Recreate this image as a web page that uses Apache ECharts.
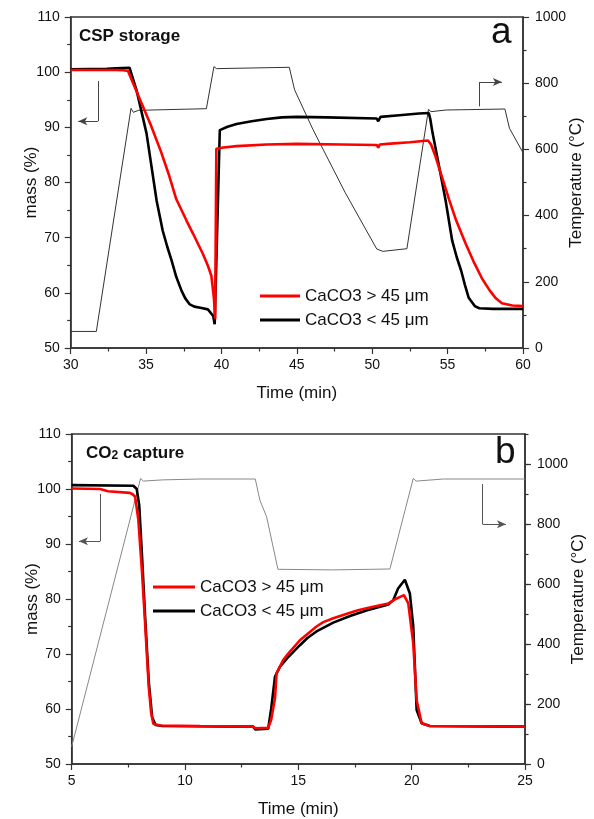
<!DOCTYPE html>
<html>
<head>
<meta charset="utf-8">
<script src="https://cdn.jsdelivr.net/npm/echarts@6/dist/echarts.min.js"></script>
<style>
html,body{margin:0;padding:0;background:#fff;}
#chart{width:594px;height:819px;}
</style>
</head>
<body>
<div id="chart"></div>
<script>
// ---------- Panel a : CSP storage ----------
const aTempTime = [30, 31.7, 34.0, 34.15, 34.5, 39.0, 39.5, 39.67, 44.5, 44.85, 46.07, 48.2, 50.3, 50.7, 52.3, 53.73, 53.9, 54.9, 58.8, 59.1, 60];
const aTempVal  = [50, 50, 724, 712, 718, 723, 850, 844, 848, 780, 660, 470, 299, 292, 300, 721, 714, 719, 722, 664, 590];

const aRedTime = [30, 33.0, 33.5, 33.8, 33.93, 34.6, 35.3, 36.0, 36.5, 37.0, 37.68, 38.12, 38.78, 39.1, 39.33, 39.5, 39.58, 39.66, 40.0, 41.0, 43.0, 45.0, 48.0, 50.3, 50.4, 50.5, 51.0, 52.5, 53.7, 53.9, 54.2, 54.6, 55.1, 55.57, 56.2, 56.7, 57.3, 57.8, 58.2, 58.6, 59.3, 60];
const aRedVal  = [100.4, 100.4, 100.35, 100.2, 99.9, 95.0, 90.5, 85.5, 81.5, 77.0, 73.1, 70.7, 67.0, 64.9, 63.1, 59.0, 55.3, 86.1, 86.3, 86.6, 86.9, 87.0, 86.9, 86.8, 86.3, 86.9, 87.0, 87.3, 87.6, 86.9, 84.7, 81.2, 76.9, 73.1, 68.9, 65.8, 62.5, 60.4, 59.0, 58.1, 57.7, 57.6];

const aBlackTime = [30, 32.4, 33.0, 33.9, 34.37, 35.03, 35.7, 36.1, 36.4, 36.7, 37.0, 37.35, 37.6, 37.9, 38.2, 38.6, 39.1, 39.45, 39.55, 39.89, 40.0, 40.4, 41.0, 42.0, 43.0, 44.0, 45.0, 47.0, 50.3, 50.4, 50.55, 51.8, 53.1, 53.75, 53.85, 54.0, 54.5, 54.87, 55.3, 55.6, 55.9, 56.15, 56.4, 56.8, 57.1, 58.0, 60];
const aBlackVal  = [100.5, 100.6, 100.7, 100.8, 96.7, 88.9, 76.7, 71.3, 68.4, 65.8, 62.9, 60.4, 59.0, 57.9, 57.5, 57.3, 57.0, 55.8, 54.3, 89.5, 89.7, 90.1, 90.6, 91.1, 91.5, 91.8, 91.9, 91.8, 91.6, 91.1, 91.9, 92.2, 92.5, 92.6, 91.5, 89.0, 82.0, 76.7, 69.5, 66.5, 64.0, 61.4, 59.1, 57.6, 57.2, 57.1, 57.1];

// ---------- Panel b : CO2 capture ----------
const bTempTime = [5, 8.04, 8.16, 9.0, 10.66, 13.1, 13.3, 13.6, 14.1, 16.5, 19.04, 20.07, 20.2, 21.4, 25];
const bTempVal  = [58, 952, 943, 947, 950, 950, 880, 824, 649, 647, 650, 952, 943, 950, 950];

const bRedTime = [5, 6.25, 6.6, 7.57, 7.7, 7.8, 7.94, 8.1, 8.23, 8.4, 8.5, 8.6, 8.9, 10.66, 13.0, 13.1, 13.67, 13.8, 13.97, 14.04, 14.33, 14.6, 15.07, 15.8, 16.1, 16.54, 17.28, 17.6, 18.0, 18.97, 19.04, 19.34, 19.66, 19.85, 20.07, 20.22, 20.44, 20.8, 25];
const bRedVal  = [100.1, 100.0, 99.6, 99.3, 99.0, 98.6, 94.4, 85.0, 76.2, 64.0, 59.5, 57.3, 57.0, 56.9, 56.8, 56.5, 56.6, 58.0, 62.0, 66.5, 68.9, 70.3, 72.5, 75.0, 75.8, 76.5, 77.5, 77.9, 78.3, 79.2, 79.5, 80.1, 80.7, 79.2, 71.9, 61.6, 57.4, 56.9, 56.8];

const bBlackTime = [5, 7.72, 7.8, 7.87, 7.92, 7.98, 8.1, 8.25, 8.4, 8.55, 8.7, 9.0, 13.0, 13.1, 13.67, 13.8, 13.97, 14.19, 14.5, 15.07, 15.4, 15.8, 16.54, 17.28, 18.0, 18.97, 19.04, 19.19, 19.4, 19.7, 19.78, 19.92, 20.07, 20.22, 20.44, 20.8, 25];
const bBlackVal  = [100.7, 100.6, 100.6, 100.0, 100.3, 97.0, 88.0, 76.0, 65.0, 58.5, 57.1, 56.9, 56.8, 56.3, 56.4, 60.0, 65.9, 67.7, 69.2, 71.6, 72.9, 74.1, 75.7, 76.9, 77.9, 79.0, 79.2, 79.8, 81.9, 83.5, 83.6, 81.0, 75.0, 59.8, 57.4, 56.9, 56.8];

const seriesNames = ['CaCO3 > 45 μm', 'CaCO3 < 45 μm'];

function zip(xs, ys){ return xs.map((x,i)=>[x, ys[i]]); }

const FONT = 'Liberation Sans, Arial, Helvetica, sans-serif';
const AX = '#333';
const chart = echarts.init(document.getElementById('chart'), null, {renderer:'canvas'});
const plain = v => String(v);

function xAxisCfg(grid, min, max){
  return {
    type:'value', gridIndex:grid, min:min, max:max, interval:5,
    name:'Time (min)', nameLocation:'middle', nameGap:37, nameMoveOverlap:false,
    nameTextStyle:{fontFamily:FONT, fontSize:17, color:'#111'},
    axisLine:{show:true, onZero:false, lineStyle:{color:AX, width:1.5}},
    axisTick:{show:true, inside:false, length:6, lineStyle:{color:AX, width:1.2}},
    minorTick:{show:true, splitNumber:2, length:3.5, lineStyle:{color:AX, width:1.2}},
    axisLabel:{fontFamily:FONT, fontSize:14, color:'#111', margin:10, formatter:plain},
    splitLine:{show:false}
  };
}
function massAxisCfg(grid){
  return {
    type:'value', gridIndex:grid, position:'left', min:50, max:110, interval:10,
    name:'mass (%)', nameLocation:'middle', nameRotate:90, nameGap:31, nameMoveOverlap:false,
    nameTextStyle:{fontFamily:FONT, fontSize:17, color:'#111'},
    axisLine:{show:true, onZero:false, lineStyle:{color:AX, width:1.5}},
    axisTick:{show:true, length:6, lineStyle:{color:AX, width:1.2}},
    minorTick:{show:true, splitNumber:2, length:3.5, lineStyle:{color:AX, width:1.2}},
    axisLabel:{fontFamily:FONT, fontSize:14, color:'#111', margin:11, formatter:plain},
    splitLine:{show:false}
  };
}
function tempAxisCfg(grid, max, minor){
  return {
    type:'value', gridIndex:grid, position:'right', min:0, max:max, interval:200,
    name:'Temperature (°C)', nameLocation:'middle', nameRotate:90, nameGap:45, nameMoveOverlap:false,
    nameTextStyle:{fontFamily:FONT, fontSize:17, color:'#111'},
    axisLine:{show:true, onZero:false, lineStyle:{color:AX, width:1.5}},
    axisTick:{show:true, length:6, lineStyle:{color:AX, width:1.2}},
    minorTick:{show:minor, splitNumber:2, length:3.5, lineStyle:{color:AX, width:1.2}},
    axisLabel:{fontFamily:FONT, fontSize:14, color:'#111', margin:12, showMaxLabel: max === 1000, formatter:plain},
    splitLine:{show:false}
  };
}

const option = {
  animation:false,
  backgroundColor:'#fff',
  grid:[
    {left:70.7, top:17, width:452.3, height:331, containLabel:false, outerBoundsMode:'none', show:true, borderColor:AX, borderWidth:1.5, backgroundColor:'transparent'},
    {left:71.7, top:434, width:453.3, height:330, containLabel:false, outerBoundsMode:'none', show:true, borderColor:AX, borderWidth:1.5, backgroundColor:'transparent'}
  ],
  xAxis:[ xAxisCfg(0,30,60), xAxisCfg(1,5,25) ],
  yAxis:[
    massAxisCfg(0),
    tempAxisCfg(0, 1000, true),
    massAxisCfg(1),
    tempAxisCfg(1, 1100, false),
    {
      type:'value', gridIndex:1, position:'right', min:0, max:1100, interval:100,
      axisLine:{show:false},
      axisTick:{show:true, length:3.5, lineStyle:{color:AX, width:1.2}},
      axisLabel:{show:false},
      splitLine:{show:false}
    }
  ],
  legend:[
    {
      data:seriesNames, left:260, top:286, padding:0, orient:'vertical',
      itemWidth:40, itemHeight:3, itemGap:4, icon:'rect',
      textStyle:{fontFamily:FONT, fontSize:17, color:'#111', lineHeight:20},
      selectedMode:false
    },
    {
      data:seriesNames, left:153, top:577, padding:0, orient:'vertical',
      itemWidth:42, itemHeight:3, itemGap:4, icon:'rect',
      textStyle:{fontFamily:FONT, fontSize:17, color:'#111', lineHeight:20},
      selectedMode:false
    }
  ],
  graphic:[
    {type:'text', left:79, top:28, style:{text:'CSP storage', font:'bold 17px ' + FONT, fill:'#111'}},
    {type:'text', left:491, top:14, style:{text:'a', font:'37px ' + FONT, fill:'#111'}},
    {type:'text', left:86, top:445, style:{
      text:'{a|CO}{b|2}{a| capture}',
      rich:{
        a:{font:'bold 17px ' + FONT, fill:'#111', lineHeight:20, verticalAlign:'bottom'},
        b:{font:'bold 12px ' + FONT, fill:'#111', lineHeight:20, verticalAlign:'bottom', padding:[5,0,0,0]}
      }
    }},
    {type:'text', left:495, top:434, style:{text:'b', font:'37px ' + FONT, fill:'#111'}}
  ],
  series:[
    {type:'line', name:'Temp a', xAxisIndex:0, yAxisIndex:1, data:zip(aTempTime, aTempVal),
      showSymbol:false, symbol:'none', lineStyle:{color:'#333', width:1}, itemStyle:{color:'#333'}, silent:true, z:1},
    {type:'line', name:seriesNames[1], xAxisIndex:0, yAxisIndex:0, data:zip(aBlackTime, aBlackVal),
      showSymbol:false, symbol:'none', lineStyle:{color:'#000', width:2.6}, itemStyle:{color:'#000'}, z:2,
      markLine:{silent:true, animation:false, label:{show:false}, lineStyle:{color:'#444', width:1, type:'solid'}, symbolSize:[6,9],
        data:[
          [{coord:[31.8, 98.4], symbol:'none'}, {coord:[31.8, 91.1], symbol:'none'}],
          [{coord:[31.8, 91.1], symbol:'none'}, {coord:[30.5, 91.1], symbol:'arrow'}],
          [{coord:[57.1, 93.8], symbol:'none'}, {coord:[57.1, 98.2], symbol:'none'}],
          [{coord:[57.1, 98.2], symbol:'none'}, {coord:[58.6, 98.2], symbol:'arrow'}]
        ]}
    },
    {type:'line', name:seriesNames[0], xAxisIndex:0, yAxisIndex:0, data:zip(aRedTime, aRedVal),
      showSymbol:false, symbol:'none', lineStyle:{color:'#ff0000', width:2.6}, itemStyle:{color:'#ff0000'}, z:3},

    {type:'line', name:'Temp b', xAxisIndex:1, yAxisIndex:3, data:zip(bTempTime, bTempVal),
      showSymbol:false, symbol:'none', lineStyle:{color:'#888', width:1}, itemStyle:{color:'#888'}, silent:true, z:1},
    {type:'line', name:seriesNames[1], xAxisIndex:1, yAxisIndex:2, data:zip(bBlackTime, bBlackVal),
      showSymbol:false, symbol:'none', lineStyle:{color:'#000', width:2.6}, itemStyle:{color:'#000'}, z:2,
      markLine:{silent:true, animation:false, label:{show:false}, lineStyle:{color:'#555', width:1, type:'solid'}, symbolSize:[6,9],
        data:[
          [{coord:[6.25, 99.1], symbol:'none'}, {coord:[6.25, 90.5], symbol:'none'}],
          [{coord:[6.25, 90.5], symbol:'none'}, {coord:[5.32, 90.5], symbol:'arrow'}],
          [{coord:[23.13, 100.9], symbol:'none'}, {coord:[23.13, 93.6], symbol:'none'}],
          [{coord:[23.13, 93.6], symbol:'none'}, {coord:[24.16, 93.6], symbol:'arrow'}]
        ]}
    },
    {type:'line', name:seriesNames[0], xAxisIndex:1, yAxisIndex:2, data:zip(bRedTime, bRedVal),
      showSymbol:false, symbol:'none', lineStyle:{color:'#ff0000', width:2.6}, itemStyle:{color:'#ff0000'}, z:3}
  ]
};
chart.setOption(option);
</script>
</body>
</html>
